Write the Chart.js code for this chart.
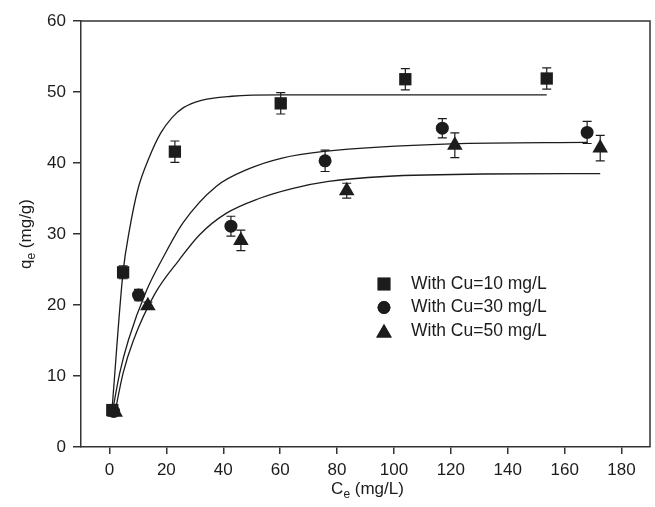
<!DOCTYPE html>
<html>
<head>
<meta charset="utf-8">
<script src="https://cdn.jsdelivr.net/npm/chart.js@4.4.0/dist/chart.umd.min.js"></script>
<style>
  html, body { margin: 0; padding: 0; background: #fff; overflow: hidden; }
  #wrap { width: 655px; height: 507px; position: relative; overflow: hidden; }
</style>
</head>
<body>
<div id="wrap"><canvas id="chart" width="659" height="507"></canvas></div>
<script>
const INK = "#1c1c1c";
const FONT = "'Liberation Sans', Arial, Helvetica, sans-serif";

const xTicks = [0, 20, 40, 60, 80, 100, 120, 140, 160, 180];

const seriesLabels = ["With Cu=10 mg/L", "With Cu=30 mg/L", "With Cu=50 mg/L"];

// measured points (Ce, qe) with error bars
const cu10X = [1, 4.8, 23, 60.2, 104, 153.7];
const cu10Y = [5.2, 24.6, 41.6, 48.4, 51.8, 51.9];
const cu10Err = [0.4, 0.9, 1.5, 1.5, 1.5, 1.5];

const cu30X = [1.5, 10.2, 42.7, 75.8, 117, 167.9];
const cu30Y = [5.0, 21.4, 31.1, 40.3, 44.9, 44.3];
const cu30Err = [0.4, 0.8, 1.4, 1.5, 1.35, 1.55];

const cu50X = [2, 13.5, 46.2, 83.4, 121.4, 172.5];
const cu50Y = [4.9, 19.9, 29.1, 36.1, 42.5, 42.1];
const cu50Err = [0.4, 0.5, 1.45, 1.05, 1.75, 1.8];

// fitted curves
const fit10X = [1, 4.8, 7, 10, 14, 18, 22, 26, 32, 43, 60, 100, 153.7];
const fit10Y = [5.8, 24.7, 30.5, 36.3, 40.8, 44.2, 46.4, 47.8, 48.8, 49.4, 49.6, 49.6, 49.6];

const fit30X = [1.2, 3.6, 6.7, 13.1, 19, 25.9, 37.5, 49.1, 60.7, 74.7, 120, 168];
const fit30Y = [5.3, 10.4, 15.1, 22.1, 26.8, 31.6, 36.7, 39.2, 40.7, 41.6, 42.7, 42.9];

const fit50X = [2, 4.8, 8.5, 16, 24.4, 31.7, 41, 52.6, 64.2, 77, 96.7, 131.6, 172.5];
const fit50Y = [5.0, 10.4, 15.1, 21.6, 26.3, 29.9, 32.9, 35.0, 36.4, 37.4, 38.1, 38.45, 38.5];

const toPoints = (xs, ys) => xs.map((v, i) => ({ x: v, y: ys[i] }));

function markerSet(label, xs, ys, errs, style, radius) {
  return {
    label,
    data: toPoints(xs, ys),
    errors: errs,
    pointStyle: style,
    pointRadius: radius,
    pointHoverRadius: radius,
    backgroundColor: INK,
    borderColor: INK,
    borderWidth: 0,
    showLine: false,
  };
}

function curveSet(xs, ys) {
  return {
    label: "",
    data: toPoints(xs, ys),
    showLine: true,
    pointRadius: 0,
    borderColor: INK,
    borderWidth: 1.3,
    cubicInterpolationMode: "monotone",
    fill: false,
  };
}

const errorBars = {
  id: "errorBars",
  beforeDatasetsDraw(chart) {
    const { ctx } = chart;
    const x = chart.scales.x, y = chart.scales.y;
    ctx.save();
    ctx.strokeStyle = INK;
    ctx.lineWidth = 1.2;
    chart.data.datasets.forEach((ds) => {
      if (!ds.errors) return;
      ds.data.forEach((p, i) => {
        const px = x.getPixelForValue(p.x);
        const top = y.getPixelForValue(p.y + ds.errors[i]);
        const bot = y.getPixelForValue(p.y - ds.errors[i]);
        ctx.beginPath();
        ctx.moveTo(px, top); ctx.lineTo(px, bot);
        ctx.moveTo(px - 4.5, top); ctx.lineTo(px + 4.5, top);
        ctx.moveTo(px - 4.5, bot); ctx.lineTo(px + 4.5, bot);
        ctx.stroke();
      });
    });
    ctx.restore();
  },
};

// text with a subscript: main, sub, rest
function subText(ctx, x, y, main, sub, rest) {
  const big = `17px ${FONT}`, small = `12px ${FONT}`;
  ctx.font = big;
  const w1 = ctx.measureText(main).width;
  const w3 = ctx.measureText(rest).width;
  ctx.font = small;
  const w2 = ctx.measureText(sub).width;
  const sx = x - (w1 + w2 + w3) / 2;
  ctx.textAlign = "left";
  ctx.textBaseline = "alphabetic";
  ctx.font = big;
  ctx.fillText(main, sx, y);
  ctx.font = small;
  ctx.fillText(sub, sx + w1, y + 4);
  ctx.font = big;
  ctx.fillText(rest, sx + w1 + w2, y);
}

const decorations = {
  id: "decorations",
  afterDraw(chart) {
    const { ctx, chartArea: a } = chart;
    ctx.save();
    // frame top and right
    ctx.strokeStyle = "#333";
    ctx.lineWidth = 1.5;
    ctx.beginPath();
    ctx.moveTo(a.left, a.top);
    ctx.lineTo(a.right, a.top);
    ctx.lineTo(a.right, a.bottom);
    ctx.stroke();

    ctx.fillStyle = INK;
    // axis titles
    subText(ctx, (a.left + a.right) / 2 + 2, 494, "C", "e", " (mg/L)");
    ctx.save();
    ctx.translate(31, (a.top + a.bottom) / 2);
    ctx.rotate(-Math.PI / 2);
    subText(ctx, 0, 0, "q", "e", " (mg/g)");
    ctx.restore();

    // legend inside plot
    const legendX = 384, legendY = 284, rowGap = 23.5;
    const styles = [["rect", 9], ["circle", 6.4], ["triangle", 9]];
    ctx.font = `17.5px ${FONT}`;
    ctx.textAlign = "left";
    ctx.textBaseline = "middle";
    seriesLabels.forEach((lab, i) => {
      const yy = legendY + i * rowGap;
      ctx.fillStyle = INK;
      ctx.strokeStyle = INK;
      Chart.helpers.drawPoint(ctx, {
        pointStyle: styles[i][0],
        radius: styles[i][1],
        rotation: 0,
        borderWidth: 0,
      }, legendX, yy + (styles[i][0] === "triangle" ? 2 : 0));
      ctx.fill();
      ctx.fillText(lab, 411, yy);
    });
    ctx.restore();
  },
};

new Chart(document.getElementById("chart"), {
  type: "scatter",
  data: {
    datasets: [
      markerSet(seriesLabels[0], cu10X, cu10Y, cu10Err, "rect", 8.7),
      markerSet(seriesLabels[1], cu30X, cu30Y, cu30Err, "circle", 6.5),
      markerSet(seriesLabels[2], cu50X, cu50Y, cu50Err, "triangle", 9),
      curveSet(fit10X, fit10Y),
      curveSet(fit30X, fit30Y),
      curveSet(fit50X, fit50Y),
    ],
  },
  options: {
    responsive: false,
    animation: false,
    devicePixelRatio: 1,
    layout: { padding: { top: 21, right: 0, left: 0, bottom: 0 } },
    plugins: {
      legend: { display: false },
      tooltip: { enabled: false },
    },
    scales: {
      x: {
        type: "linear",
        min: -10,
        max: 190,
        afterBuildTicks: (axis) => {
          axis.ticks = xTicks.map((v) => ({ value: v }));
        },
        afterFit: (s) => {
          s.height = 60;
          s.paddingLeft = 0;
          s.paddingRight = 0;
        },
        border: { display: true, color: "#333", width: 1.5 },
        grid: { drawOnChartArea: false, drawTicks: true, tickLength: 7, color: "#333", lineWidth: 1.5 },
        ticks: { color: INK, font: { family: FONT, size: 17 }, padding: 6, maxRotation: 0 },
      },
      y: {
        type: "linear",
        min: 0,
        max: 60,
        afterFit: (s) => {
          s.width = 81;
          s.paddingTop = 0;
          s.paddingBottom = 0;
        },
        border: { display: true, color: "#333", width: 1.5 },
        grid: { drawOnChartArea: false, drawTicks: true, tickLength: 8, color: "#333", lineWidth: 1.5 },
        ticks: { stepSize: 10, color: INK, font: { family: FONT, size: 17 }, padding: 7 },
      },
    },
  },
  plugins: [errorBars, decorations],
});
</script>
</body>
</html>
